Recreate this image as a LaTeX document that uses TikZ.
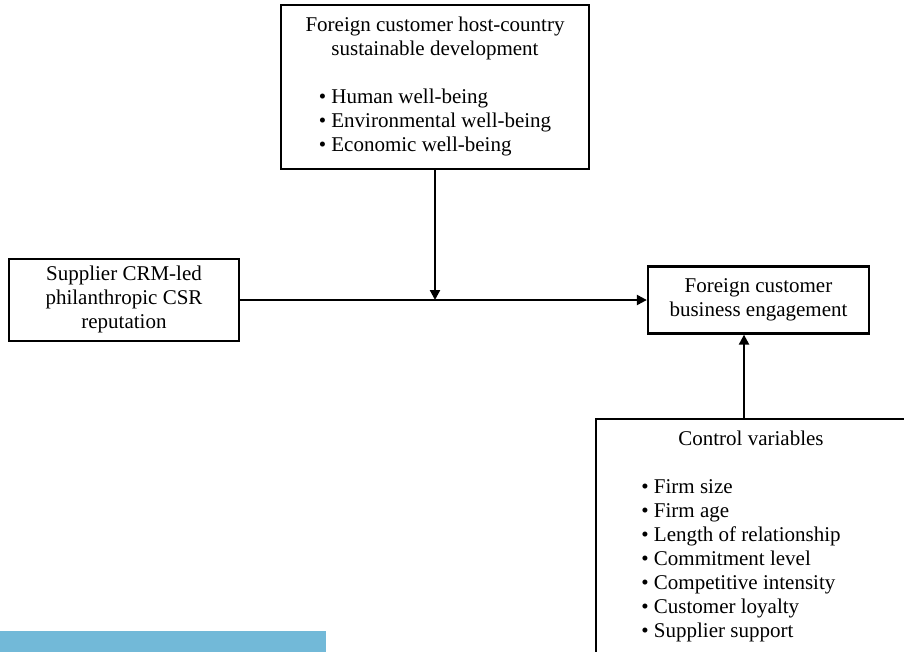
\documentclass[tikz,border=0pt]{standalone}
\usepackage{fontspec}
\setmainfont{Liberation Serif}
\usetikzlibrary{arrows.meta,positioning}
\definecolor{barblue}{RGB}{114,185,216}

\begin{document}
\begin{tikzpicture}[x=1pt,y=-1pt,>={Triangle[length=10pt,width=10pt]},
        box/.style={draw,line width=2.3pt,inner sep=0pt,font=\fontsize{21}{24}\selectfont},
        link/.style={->,line width=2.2pt}]
        \useasboundingbox (0,0) rectangle (904,652);
        \clip (0,0) rectangle (904,652);

        \node[box,minimum width=308pt,minimum height=164pt] (host) at (435,87)
            {\begin{tabular}{@{}c@{}}Foreign customer host-country\\ sustainable development\\[24pt]
             \begin{tabular}{@{}l@{}}\textbullet{} Human well-being\\ \textbullet{} Environmental well-being\\ \textbullet{} Economic well-being\end{tabular}\end{tabular}};
        \node[box,minimum width=230pt,minimum height=82pt] (supp) at (124,300)
            {\begin{tabular}{@{}c@{}}Supplier CRM-led\\ philanthropic CSR\\ reputation\end{tabular}};
        \node[box,minimum width=221pt,minimum height=67pt] (eng) at (758.5,300)
            {\begin{tabular}{@{}c@{}}Foreign customer\\ business engagement\end{tabular}};
        \node[box,anchor=north,minimum width=310pt,inner ysep=9.5pt,text depth=260pt] (ctrl) at (751,418)
            {\begin{tabular}[t]{@{}c@{}}Control variables\\[24pt]
             \hspace{-20pt}\begin{tabular}{@{}l@{}}\textbullet{} Firm size\\ \textbullet{} Firm age\\ \textbullet{} Length of relationship\\ \textbullet{} Commitment level\\ \textbullet{} Competitive intensity\\ \textbullet{} Customer loyalty\\ \textbullet{} Supplier support\end{tabular}\end{tabular}};

        \coordinate (join) at (host.south |- supp.east);
        \draw[link] (supp.east) -- (eng.west);
        \draw[link] (host.south) -- (join);
        \draw[link] ([xshift=-14.5pt]eng.south |- ctrl.north) -- ([xshift=-14.5pt]eng.south);

        \fill[barblue] (0,631) rectangle (326,652);
      \end{tikzpicture}
\end{document}
